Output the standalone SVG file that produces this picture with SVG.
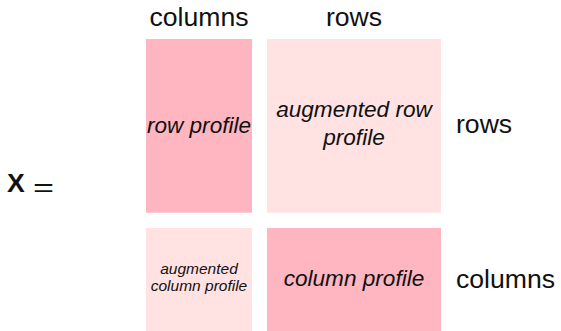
<svg xmlns="http://www.w3.org/2000/svg" width="561" height="331" viewBox="0 0 561 331">
  <style>
    text { font-family: "Liberation Sans", Arial, sans-serif; fill: #111; }
    .hdr { font-size: 26.6px; text-anchor: middle; }
    .side { font-size: 26.6px; }
    .lbl { font-size: 22.6px; font-style: italic; text-anchor: middle; }
    .small { font-size: 15.5px; font-style: italic; text-anchor: middle; }
    .dark { fill: #FFB6C1; }
    .light { fill: #FFE2E1; }
  </style>

  <!-- matrix label -->
  <g id="matrix-name">
    <text x="7" y="192" class="side" font-size="27" font-weight="bold">X</text>
    <text x="33" y="196" class="side" font-size="31" textLength="21" lengthAdjust="spacingAndGlyphs">=</text>
  </g>

  <!-- column headers -->
  <g id="header-columns"><text x="199" y="26" class="hdr">columns</text></g>
  <g id="header-rows"><text x="354" y="26" class="hdr">rows</text></g>

  <!-- block matrix -->
  <g id="row-profile">
    <rect x="146" y="39" width="106" height="173.7" class="dark"/>
    <text x="199" y="133" class="lbl">row profile</text>
  </g>
  <g id="augmented-row-profile">
    <rect x="267" y="39" width="174" height="173.7" class="light"/>
    <text x="354" y="117" class="lbl">augmented row</text>
    <text x="354" y="145" class="lbl">profile</text>
  </g>
  <g id="augmented-column-profile">
    <rect x="146" y="228" width="106" height="103" class="light"/>
    <text x="199" y="274" class="small">augmented</text>
    <text x="199" y="291" class="small">column profile</text>
  </g>
  <g id="column-profile">
    <rect x="267" y="228" width="174" height="103" class="dark"/>
    <text x="354" y="286" class="lbl">column profile</text>
  </g>

  <!-- row labels -->
  <g id="label-rows"><text x="456" y="133" class="side">rows</text></g>
  <g id="label-columns"><text x="456" y="288" class="side">columns</text></g>
</svg>
